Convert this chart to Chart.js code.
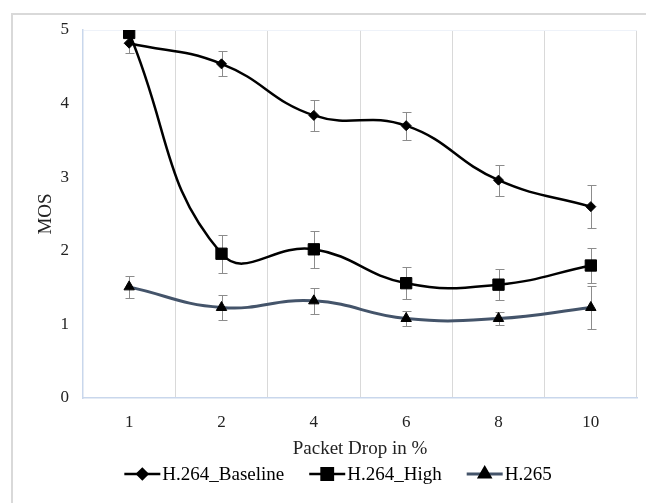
<!DOCTYPE html>
<html>
<head>
<meta charset="utf-8">
<script src="https://cdn.jsdelivr.net/npm/chart.js@4/dist/chart.umd.min.js"></script>
<style>
  html, body { margin: 0; padding: 0; background: #fff; }
  #wrap { width: 646px; height: 503px; }
</style>
</head>
<body>
<div id="wrap"><canvas id="chart"></canvas></div>
<script>
const labels = ['1', '2', '4', '6', '8', '10']
const baseline = [4.82, 4.54, 3.84, 3.70, 2.96, 2.60]
const high = [4.96, 1.96, 2.02, 1.56, 1.54, 1.80]
const h265 = [1.51, 1.23, 1.32, 1.08, 1.08, 1.23]
const baselineErr = [0.13, 0.17, 0.21, 0.19, 0.21, 0.29]
const highErr = [0.04, 0.26, 0.25, 0.22, 0.21, 0.24]
const h265Err = [0.15, 0.17, 0.18, 0.10, 0.09, 0.29]
const yTicks = [0, 1, 2, 3, 4, 5]

const errors = [baselineErr, highErr, h265Err]
const serif = "'Liberation Serif', 'Times New Roman', serif"
const slate = '#44546a'

// grey frame round the whole figure, only left and top edges show
const frame = {
  id: 'frame',
  beforeDraw: (chart) => {
    const ctx = chart.ctx
    ctx.save()
    ctx.fillStyle = '#fff'
    ctx.fillRect(0, 0, chart.width, chart.height)
    ctx.strokeStyle = '#d9d9d9'
    ctx.lineWidth = 2
    ctx.beginPath()
    ctx.moveTo(12, chart.height)
    ctx.lineTo(12, 14)
    ctx.lineTo(chart.width, 14)
    ctx.stroke()
    ctx.restore()
  }
}

const errorBars = {
  id: 'errorBars',
  beforeDatasetsDraw: (chart) => {
    const ctx = chart.ctx
    const y = chart.scales.y
    ctx.save()
    ctx.strokeStyle = '#8c8c8c'
    ctx.lineWidth = 1
    chart.data.datasets.forEach((ds, i) => {
      chart.getDatasetMeta(i).data.forEach((pt, j) => {
        const v = ds.data[j]
        const e = errors[i][j]
        const top = Math.round(y.getPixelForValue(v + e)) + 0.5
        const bottom = Math.round(y.getPixelForValue(v - e)) + 0.5
        const x = Math.round(pt.x) + 0.5
        ctx.beginPath()
        ctx.moveTo(x, top)
        ctx.lineTo(x, bottom)
        ctx.moveTo(x - 4, top)
        ctx.lineTo(x + 5, top)
        ctx.moveTo(x - 4, bottom)
        ctx.lineTo(x + 5, bottom)
        ctx.stroke()
      })
    })
    ctx.restore()
  }
}

// excel style legend: line with the marker in its middle
const lineLegend = {
  id: 'lineLegend',
  afterDraw: (chart) => {
    const ctx = chart.ctx
    const cy = 474
    const seg = 36
    const gap = 25
    ctx.save()
    ctx.font = '19px ' + serif
    ctx.textBaseline = 'middle'
    const items = chart.data.datasets.map(ds => ({ ds, w: seg + 2 + ctx.measureText(ds.label).width }))
    const total = items.reduce((s, it) => s + it.w, 0) + gap * (items.length - 1)
    let x = 338 - total / 2
    items.forEach(({ ds, w }) => {
      ctx.strokeStyle = ds.borderColor
      ctx.lineWidth = ds.borderWidth
      ctx.beginPath()
      ctx.moveTo(x, cy)
      ctx.lineTo(x + seg, cy)
      ctx.stroke()
      ctx.fillStyle = '#000'
      ctx.strokeStyle = '#000'
      Chart.helpers.drawPoint(ctx, {
        pointStyle: ds.pointStyle,
        radius: ds.pointRadius,
        borderWidth: 1,
        rotation: 0
      }, x + seg / 2, cy)
      ctx.fillText(ds.label, x + seg + 2, cy + 1)
      x += w + gap
    })
    ctx.restore()
  }
}

const line = (label, data, color, style, radius, width) => ({
  label,
  data,
  borderColor: color,
  borderWidth: width,
  tension: 0.45,
  pointStyle: style,
  pointRadius: radius,
  pointHoverRadius: radius,
  pointBackgroundColor: '#000',
  pointBorderColor: '#000',
  pointBorderWidth: 1
})

new Chart(document.getElementById('chart'), {
  type: 'line',
  data: {
    labels,
    datasets: [
      line('H.264_Baseline', baseline, '#000', 'rectRot', 5, 2.5),
      line('H.264_High', high, '#000', 'rect', 8, 2.5),
      line('H.265', h265, slate, 'triangle', 6, 3)
    ]
  },
  options: {
    responsive: true,
    maintainAspectRatio: false,
    animation: false,
    devicePixelRatio: 1,
    layout: { padding: { top: 30, right: 8, left: 0, bottom: 43 } },
    plugins: {
      legend: { display: false },
      tooltip: { enabled: false }
    },
    scales: {
      x: {
        offset: true,
        grid: {
          offset: true,
          drawTicks: false,
          color: c => (c.index === 0 || c.index === labels.length) ? '#dce6f4' : '#d9d9d9'
        },
        border: { color: '#c9d7ec', width: 1.5 },
        ticks: { padding: 14, color: '#222', font: { family: serif, size: 17 } },
        title: {
          display: true,
          text: 'Packet Drop in %',
          color: '#222',
          font: { family: serif, size: 19 },
          padding: { top: 0, bottom: 0 }
        },
        afterFit: (scale) => { scale.height = 62 }
      },
      y: {
        min: 0,
        max: 5,
        afterBuildTicks: (scale) => { scale.ticks = yTicks.map(value => ({ value })) },
        grid: {
          drawTicks: false,
          color: c => c.tick.value === 5 ? '#eef2f9' : 'rgba(0,0,0,0)'
        },
        border: { color: '#c9d7ec', width: 1.5 },
        ticks: { padding: 14, color: '#222', font: { family: serif, size: 17 } },
        title: {
          display: true,
          text: 'MOS',
          color: '#222',
          font: { family: serif, size: 19 },
          padding: { top: 35, bottom: 0 }
        },
        afterFit: (scale) => { scale.width = 83 }
      }
    }
  },
  plugins: [frame, errorBars, lineLegend]
})
</script>
</body>
</html>
